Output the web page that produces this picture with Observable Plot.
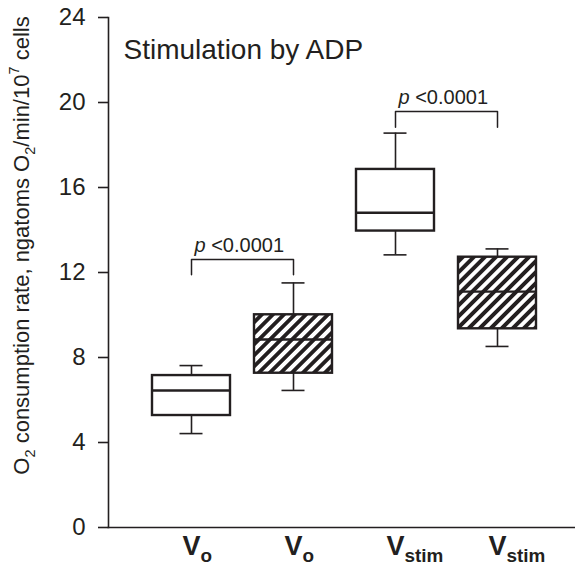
<!DOCTYPE html>
<html><head><meta charset="utf-8">
<script src="https://cdn.jsdelivr.net/npm/d3@7"></script>
<script src="https://cdn.jsdelivr.net/npm/@observablehq/plot@0.6"></script>
<style>body{margin:0;background:#fff}</style>
</head><body><div id="chart"></div>
<script>
// ---- data ----
const groups = ["Vo_1", "Vo_2", "Vstim_1", "Vstim_2"];
const groupLabels = ["V_{o}", "V_{o}", "V_{stim}", "V_{stim}"];
const hatched = [false, true, false, true];
const whiskerLow = [4.42, 6.45, 12.83, 8.52];
const q1 = [5.27, 7.26, 13.95, 9.35];
const median = [6.45, 8.85, 14.81, 11.1];
const q3 = [7.15, 10.01, 16.85, 12.72];
const whiskerHigh = [7.62, 11.51, 18.56, 13.11];
const yTicks = [0, 4, 8, 12, 16, 20, 24];
const title = "Stimulation by ADP";
const yLabel = "O_{2} consumption rate, ngatoms O_{2}/min/10^{7} cells";
const bracketFrom = ["Vo_1", "Vstim_1"];
const bracketTo = ["Vo_2", "Vstim_2"];
const bracketTop = [12.61, 19.58];
const bracketEnd = [11.9, 18.84];
const bracketText = ["*{p} <0.0001", "*{p} <0.0001"];

// ---- tables ----
const ink = "#231f20";
const boxes = groups.map((g, i) => ({g, lo: whiskerLow[i], q1: q1[i], med: median[i], q3: q3[i], hi: whiskerHigh[i], hatch: hatched[i]}));
const labels = groups.map((g, i) => ({g, t: groupLabels[i]}));
const brackets = bracketFrom.flatMap((f, i) => [
  {b: i, x: f, y: bracketEnd[i]}, {b: i, x: f, y: bracketTop[i]},
  {b: i, x: bracketTo[i], y: bracketTop[i]}, {b: i, x: bracketTo[i], y: bracketEnd[i]}
]);
const notes = bracketFrom.map((f, i) => ({x: f, y: bracketTop[i], t: bracketText[i]}));

const svg = Plot.plot({
  width: 575, height: 571,
  marginLeft: 108, marginTop: 17, marginBottom: 44, marginRight: 0,
  style: {fontFamily: "'Liberation Sans', Arial, Helvetica, sans-serif", color: ink, background: "#fff", overflow: "visible"},
  x: {type: "band", domain: groups, paddingInner: 0.24, paddingOuter: 0.394, align: 0.53, axis: null},
  y: {domain: [0, 24], axis: null},
  marks: [
    Plot.frame({anchor: "left", stroke: ink, strokeWidth: 1.6}),
    Plot.frame({anchor: "bottom", stroke: ink, strokeWidth: 1.6}),
    Plot.axisY({ticks: yTicks, tickSize: 10, tickPadding: 13, fontSize: 24, label: null, strokeWidth: 1.6}),
    Plot.ruleX(boxes, {x: "g", y1: "lo", y2: "q1", stroke: ink, strokeWidth: 1.6}),
    Plot.ruleX(boxes, {x: "g", y1: "q3", y2: "hi", stroke: ink, strokeWidth: 1.6}),
    Plot.tickY(boxes, {x: "g", y: "lo", insetLeft: 27.5, insetRight: 27.5, stroke: ink, strokeWidth: 1.6}),
    Plot.tickY(boxes, {x: "g", y: "hi", insetLeft: 27.5, insetRight: 27.5, stroke: ink, strokeWidth: 1.6}),
    Plot.barY(boxes.filter(d => !d.hatch), {x: "g", y1: "q1", y2: "q3", fill: "white", stroke: ink, strokeWidth: 2.4}),
    Plot.barY(boxes.filter(d => d.hatch), {x: "g", y1: "q1", y2: "q3", fill: "url(#hatch)", stroke: ink, strokeWidth: 2.4}),
    Plot.tickY(boxes, {x: "g", y: "med", stroke: ink, strokeWidth: 2.4}),
    Plot.line(brackets, {x: "x", y: "y", z: "b", stroke: ink, strokeWidth: 1.5}),
    Plot.text(notes, {x: "x", y: "y", text: "t", textAnchor: "start", dx: 3, dy: -14, fontSize: 20, fill: ink}),
    Plot.text(labels, {x: "g", text: "t", frameAnchor: "bottom", textAnchor: "start", dx: -9, dy: 27.5, fontSize: 27, fontWeight: "bold", fill: ink}),
    Plot.text([title], {frameAnchor: "top-left", textAnchor: "start", lineAnchor: "top", dx: 15, dy: 22, fontSize: 28, fill: ink}),
    Plot.text([yLabel], {frameAnchor: "left", rotate: -90, textAnchor: "middle", dx: -87, dy: -27, fontSize: 22, fill: ink})
  ]
});

// hatch pattern
const ns = "http://www.w3.org/2000/svg";
const defs = document.createElementNS(ns, "defs");
defs.innerHTML = `<pattern id="hatch" patternUnits="userSpaceOnUse" width="7.8" height="7.8" patternTransform="rotate(45)">
<rect width="7.8" height="7.8" fill="white"/><rect width="3.9" height="7.8" fill="${ink}"/></pattern>`;
svg.insertBefore(defs, svg.firstChild);

// rich text: _{sub} ^{sup} *{italic}
function rich(el, str, subShift, subScale) {
  const fs = parseFloat(el.getAttribute("font-size") || el.parentNode.getAttribute("font-size") || 16);
  el.textContent = "";
  const re = /([_^*])\{([^}]*)\}/g;
  let last = 0, m, shift = 0;
  const add = (s, kind) => {
    if (!s) return;
    const t = document.createElementNS(ns, "tspan");
    t.textContent = s;
    const target = kind === "_" ? fs * subShift : kind === "^" ? -fs * 0.42 : 0;
    if (target - shift) t.setAttribute("dy", target - shift);
    shift = target;
    if (kind === "_" || kind === "^") t.setAttribute("font-size", fs * subScale);
    if (kind === "*") t.setAttribute("font-style", "italic");
    el.appendChild(t);
  };
  while ((m = re.exec(str))) { add(str.slice(last, m.index), ""); add(m[2], m[1]); last = re.lastIndex; }
  add(str.slice(last), "");
}
svg.querySelectorAll("text").forEach(el => {
  const s = el.textContent;
  if (/^V_\{/.test(s)) rich(el, s, 0.26, 0.7);
  else if (/[_^*]\{/.test(s)) rich(el, s, 0.3, 0.66);
});
document.getElementById("chart").appendChild(svg);
</script>
</body></html>
